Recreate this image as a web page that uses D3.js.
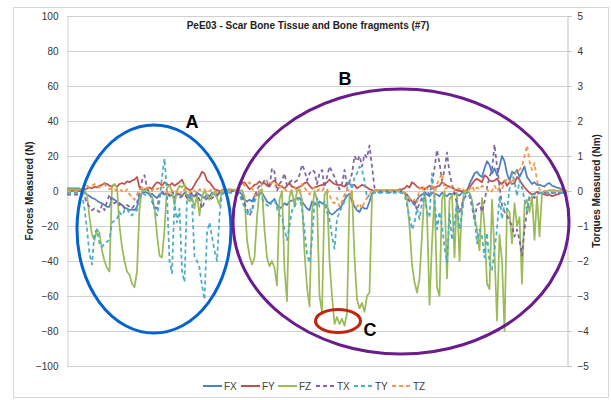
<!DOCTYPE html>
<html>
<head>
<meta charset="utf-8">
<script src="https://cdn.jsdelivr.net/npm/d3@7"></script>
<style>
  body { margin: 0; background: #fff; }
  svg { font-family: "Liberation Sans", Arial, sans-serif; }
</style>
</head>
<body>
<svg id="chart"></svg>
<script>
var width = 611,
	height = 400;
var margin = ({top: 16, right: 44, bottom: 34, left: 67});

// series names and colors (Excel 2010 palette)
var seriesNames = ["FX", "FY", "FZ", "TX", "TY", "TZ"];
var seriesColors = ["#4f81bd", "#c0504d", "#9bbb59", "#8064a2", "#4bacc6", "#f79646"];

var forceTicks = [-100, -80, -60, -40, -20, 0, 20, 40, 60, 80, 100];
var torqueTicks = [-5, -4, -3, -2, -1, 0, 1, 2, 3, 4, 5];

// forces (N), one value per sample, 201 samples
var FX = [1.5,1.5,1.5,1.5,1.5,1.5,0.5,-1,-2,-3,
	-4,-4.5,-5.5,-6.5,-7,-8,-9,-9,-4,-5,
	-6,-7,-8,-9.5,-10,-11,-10.5,-11,-9,-3,
	-1,-0.5,-1,-2,-1.5,-3,-4,-2,-1,-2,
	-1,-3,-2,-4,-1,-2,-3,-1,-2,-4,
	-2,-3,-1,-2,-3,-4,-2,-3,-1,-2,
	-3,-1,0,0.5,0.5,1,0.5,0.5,0,-0.5,
	-2,-5,-6,-5,-6,-3,-2,-1.5,-1,-3.5,
	-6,-7,-6,-4.5,-8,-10,-9,-7,-8,-6,
	-5.5,-5,-4,-4,-6,-8,-10,-11,-6,-7,
	-8,-6,-7,-7.5,-9,-12.5,-13.5,-12.5,-11,-10,
	-8,-5,-3,-1.5,-6,-9,-11,-12,-9,-10,
	-10,-6,-1.5,-0.5,0,-1,-0.5,0,-0.5,-1,
	0,-0.5,0,-0.5,-0.5,-1,-2,-4,-6,-8,
	-5,-3,-2,-1,-2,-3,-1,-1.5,-2,-3,
	-1,-2,-3,-1.5,-2,-1,-2,-2.5,-1,-0.5,
	0,4,7,10,11,9,8,13,17,15,
	10,13,9,14,20,17,10,6,11,10,
	12,8,11,14,8,6,4,5,3.5,3.5,
	3,2.5,4,4.5,3,2.5,2,1.5,1,0.5,0];

var FY = [0,0.5,0,0.5,0,0,0,0.5,1.5,2,
	1.5,2.5,2,3,3.5,4.5,4,3,2.5,3.5,
	2.5,4,4.5,4,5.5,5,6,6.5,8,2,
	0.5,1,1.5,2,1,3.5,5,4.5,3,5,
	4,3,4.5,3,4,5,6.5,3,1.5,0.5,
	1,3.5,6,8,11,10,6,5,3,1,
	0.5,0,-0.5,-0.5,0,-0.5,0,0,1,3,
	4.5,5,3,1,2,3.5,4,5.5,4,4.5,
	3,2.5,5,6,4,3,2.5,1.5,3,4.5,
	2.5,2,1.5,2.5,3,4.5,5,3,1.5,2,
	2.5,3,3.5,4,5,6.5,5,4,3.5,3.5,
	3,2.5,4.5,4,3,3.5,1.5,2.5,3.5,3,
	2,1,0.5,0,0.5,0,0.5,0,0.5,0,
	0.5,0,0.5,1,1,1.5,3,2,5,4,
	2.5,1.5,2,1,2,3,1.5,2,2.5,3,
	5,4,3,2.5,2,1,0.5,0,0,0,
	0.5,2,4,6,7,6,5,9,8,6,
	5.5,6,7,5,4,6,3,5,4,4.5,
	8,6.5,4,2,0.5,-1,-2,-1.5,-0.5,-1,
	-1.5,-2,-2.5,-2,-3,-2.5,-2,-1.5,-1,-0.5,0];

var FZ = [1,1,1,1,1,1,1,0,-2,-15,
	-25,-28,-22,-24,-34,-40,-44,-46,3,4,
	2,-20,-32,-40,-46,-48,-53,-55,-46,-10,
	1,0,1,-1,-3,-10,-25,-37,-38,-22,
	2,3,0,-8,0,3,2,4,-4,-6,
	-3,-10,-2,-14,-3,0,-2,-5,-2,-1,
	-4,-8,1,1,1,1,1,0,0.5,0,
	0.5,-3,-28,-37,-42,-38,-15,0,1,-22,
	-38,-43,-40,-44,-54,-5,0,-45,-63,-3,
	0,-9,0,1,-5,-35,-55,-66,-12,0,
	-5,-60,-69,-2,0,-40,-60,-76,-72,-76,
	-73,-77,-70,-3,0,-38,-62,-67,-64,-69,
	-60,-58,-3,0.5,0.5,0.5,0.5,0.5,0.5,0.5,
	0.5,0.5,0.5,0.5,0,-1,-5,-20,-42,-52,
	-58,-50,-25,0,-12,-65,-30,-2,-55,-60,
	-5,0,-50,-5,-2,-38,-1,-40,-8,0,
	0,-1,-5,-15,-22,-34,-4,-20,-53,-56,
	-5,-35,-74,-25,-40,-80,-10,-12,-30,-7,
	-20,-15,-53,-8,-5,-12,-3,-28,-3,-26,
	-1,0,0,0.5,0.5,0.5,0,0,0.5,0.5,0];

// torques (Nm)
var TX = [-0.1,-0.1,-0.1,-0.1,-0.1,-0.1,-0.05,-0.15,-0.35,-0.45,
	-0.55,-0.5,-0.55,-0.6,-0.4,-0.55,-0.3,-0.1,-0.3,-0.35,
	-0.3,-0.4,-0.35,-0.5,-0.4,-0.45,-0.5,-0.4,-0.35,0,
	0.3,0.45,0.1,-0.05,-0.3,-0.45,-0.5,-0.15,0,-0.1,
	-0.05,-0.1,0,-0.1,-0.05,-0.2,-0.15,-0.1,-0.2,-0.1,
	-0.05,-0.15,-0.1,-0.25,-0.5,-0.3,-0.2,-0.25,-0.2,-0.15,
	-0.1,-0.05,0,0,0,0,0,0,-0.05,-0.1,
	-0.2,-0.35,-0.5,-0.7,-0.55,-0.2,0.05,0.15,0.2,0.3,
	0.25,0.1,0.65,0.55,0,0.2,0.3,0.5,0.15,0.25,
	0.3,0.25,0.3,0.45,0.75,0.6,0.3,0.5,0.6,0.55,
	0.2,0.5,0.6,0.1,0.4,0.7,0.55,0.4,0.2,0.05,
	0.2,0.6,0.15,0.25,0.5,1.0,0.85,1.0,0.7,1.05,
	0.95,1.3,0.7,0.1,0,0,0,0,0,0,
	0,0,0,0,0,-0.05,-0.15,-0.3,-0.35,-0.3,
	-0.55,-0.35,-0.2,-0.1,0,-0.1,0.2,0.65,1.17,0.8,
	0.3,0.6,1.1,0.5,0.2,-0.1,-0.35,-0.6,-0.4,-0.2,
	-0.1,-0.15,-0.45,-0.85,-0.4,-0.35,-0.6,-0.3,0.1,0.4,
	0.6,1.33,0.7,0.15,-0.4,-0.6,-0.7,-0.85,-1.0,-1.3,
	-1.1,-1.4,-1.85,-1.1,-0.6,-0.2,-0.15,-0.2,-0.1,-0.05,
	-0.05,-0.05,-0.05,-0.05,-0.05,-0.05,-0.05,-0.05,-0.05,-0.05,-0.05];

var TY = [-0.05,-0.05,-0.05,-0.05,-0.05,-0.05,-0.1,-0.5,-1.1,-1.8,
	-2.1,-1.2,-1.1,-1.5,-1.6,-1.5,-1.45,-1.4,-0.9,-0.85,
	-0.8,-0.6,-0.7,-0.55,-0.5,-0.65,-0.7,-0.6,-0.55,-0.2,
	-0.05,-0.1,-0.15,-0.1,-0.2,-0.5,-0.7,-0.3,0.4,0.93,
	-0.1,-2.0,-2.35,-0.3,-0.9,-0.5,-2.3,-2.6,-0.2,-0.1,
	-0.3,-1.9,-2.0,-2.2,-2.7,-3.1,-1.2,-0.9,-1.3,-1.7,
	-2.0,-0.7,-0.1,-0.05,-0.05,-0.05,-0.05,-0.05,-0.05,-0.1,
	-0.3,-0.45,-0.7,-0.5,-0.6,-0.3,-0.15,-0.1,-0.2,-0.35,
	-0.4,-0.45,-0.3,-0.25,-0.5,-0.7,-0.75,-1.1,-1.4,-1.0,
	-0.55,-0.45,-0.3,-0.2,-0.5,-1.1,-1.8,-2.05,-1.4,-0.35,
	-0.2,-0.45,-0.4,-0.3,-0.6,-0.8,-1.3,-1.65,-0.8,-0.6,
	-0.45,-0.3,0.05,0.3,0.05,0.4,0.5,0.7,0.6,0.3,
	-0.2,-0.1,-0.05,-0.05,-0.05,-0.05,-0.05,-0.05,-0.05,-0.05,
	-0.05,-0.05,-0.05,-0.05,-0.05,-0.1,-0.4,-0.75,-1.1,-0.9,
	-0.5,-0.8,-0.35,-0.05,-0.6,-0.75,0.5,-0.2,-1.1,-0.6,
	-1.0,-1.6,-2.05,-0.65,-1.4,-0.9,-0.35,-1.1,-0.65,-0.1,
	-0.05,-0.05,-0.35,-0.7,-1.5,-1.1,-1.3,-1.9,-1.2,-2.05,
	-2.25,-1.7,-1.1,-0.15,-0.8,-0.35,-0.55,0.05,0.5,0.3,
	-0.15,0.3,0.1,-0.25,-0.55,-0.15,-0.1,-0.1,-0.05,-0.05,
	-0.05,-0.05,-0.05,-0.05,-0.05,-0.05,-0.05,-0.05,-0.05,-0.05,-0.05];

var TZ = [0,0,0,0,0,0,0.05,0.1,0.15,0.1,
	0.15,0.2,0.15,0.1,0.15,0.2,0.1,0.05,0.1,0.05,
	0,0.05,0,-0.05,0.05,-0.1,-0.15,-0.25,-0.1,0.05,
	0.1,0.05,0.1,0.05,0,0.1,0.05,0.1,0.15,0.05,
	-0.05,-0.1,0,0.05,-0.05,0,-0.1,0.05,0,-0.05,
	0.05,0,-0.05,0.05,0,0.05,-0.05,0,0.05,0,
	-0.05,0,0,0,0,0,0,0,0.05,0.2,
	0.25,0.15,0.2,0.25,0.1,-0.1,-0.15,0.05,0.2,0.25,
	0.3,0.2,0.25,0.15,0.2,0.1,0.15,0.05,0,-0.05,
	0.05,0.1,0,-0.05,0.2,0.1,0,-0.1,0.05,0.1,
	0,0.05,0,0.1,0.05,-0.1,-0.3,-0.35,-0.2,-0.45,
	-0.3,-0.1,0.05,0,-0.2,-0.4,-0.45,-0.35,-0.5,-0.3,
	-0.2,-0.1,0,0,0,0,0,0,0,0,
	0,0,0,0,0,-0.05,-0.15,-0.2,-0.3,-0.25,
	-0.35,0.1,0,0.15,0.05,0.1,0.15,-0.1,0.2,0.35,
	0.5,0.05,0.1,0.05,0.15,0,0.1,0.05,0.1,0,
	0,0.05,0.15,0,0.1,0.05,0.15,0.1,0.05,-0.05,
	0,0.15,0,0.1,0.05,0.25,0.35,0.3,0.2,0.45,
	0.6,0.6,0.7,1.0,1.3,0.85,0.6,0.8,0.3,0.05,
	0,0,0,0,0,0,0,0,0,0,0];

var svg = d3.select('#chart')
	.attr('width', width)
	.attr('height', height);

// outer chart frame
svg.append('rect')
	.attr('x', 13.5).attr('y', 7.5)
	.attr('width', 595).attr('height', 390)
	.attr('fill', '#fff')
	.attr('stroke', '#d9d9d9');

var x = d3.scaleLinear()
	.domain([0, FX.length - 1])
	.range([margin.left, width - margin.right]);

var yF = d3.scaleLinear()
	.domain([-100, 100])
	.range([height - margin.bottom, margin.top]);

var yT = d3.scaleLinear()
	.domain([-5, 5])
	.range([height - margin.bottom, margin.top]);

// gridlines
svg.append('g')
	.selectAll('line')
	.data(forceTicks)
	.join('line')
		.attr('x1', margin.left)
		.attr('x2', width - margin.right)
		.attr('y1', d => Math.round(yF(d)) + 0.5)
		.attr('y2', d => Math.round(yF(d)) + 0.5)
		.attr('stroke', '#d0d0d0')
		.attr('stroke-width', 1.2);

var yAxis = g => g
	.attr('transform', 'translate(' + (margin.left + 0.5) + ',0)')
	.call(d3.axisLeft(yF).tickValues(forceTicks).tickSize(0).tickPadding(9))
	.call(g => g.select('.domain').attr('stroke', '#d0d0d0'))
	.call(g => g.selectAll('.tick text')
		.attr('font-size', 10)
		.attr('fill', '#333'));

var yAxisRight = g => g
	.attr('transform', 'translate(' + (width - margin.right + 0.5) + ',0)')
	.call(d3.axisRight(yT).tickValues(torqueTicks).tickSize(4).tickPadding(6))
	.call(g => g.select('.domain').attr('stroke', '#bfbfbf'))
	.call(g => g.selectAll('.tick line').attr('stroke', '#bfbfbf'))
	.call(g => g.selectAll('.tick text')
		.attr('font-size', 10)
		.attr('fill', '#333'));

svg.append('g').attr('id', 'yAxisGroup').call(yAxis);
svg.append('g').attr('id', 'yAxisRightGroup').call(yAxisRight);

// axis titles
svg.append('text')
	.attr('transform', 'translate(33,' + yF(0) + ') rotate(-90)')
	.attr('text-anchor', 'middle')
	.attr('font-size', 10)
	.attr('font-weight', 'bold')
	.attr('fill', '#222')
	.text('Forces Measured (N)');

svg.append('text')
	.attr('transform', 'translate(600,' + yT(0) + ') rotate(-90)')
	.attr('text-anchor', 'middle')
	.attr('font-size', 10)
	.attr('font-weight', 'bold')
	.attr('fill', '#222')
	.text('Torques Measured (Nm)');

// chart title
svg.append('text')
	.attr('x', 308)
	.attr('y', 29)
	.attr('text-anchor', 'middle')
	.attr('font-size', 10)
	.attr('font-weight', 'bold')
	.attr('fill', '#222')
	.text('PeE03 - Scar Bone Tissue and Bone fragments (#7)');

// series lines
var allSeries = [FX, FY, FZ, TX, TY, TZ];
var lineF = d3.line().x((d, i) => x(i)).y(d => yF(d));
var lineT = d3.line().x((d, i) => x(i)).y(d => yT(d));

allSeries.forEach(function(s, k){
	svg.append('path')
		.attr('d', k < 3 ? lineF(s) : lineT(s))
		.attr('fill', 'none')
		.attr('stroke', seriesColors[k])
		.attr('stroke-width', 1.75)
		.attr('stroke-linejoin', 'round')
		.attr('stroke-dasharray', k < 3 ? null : '4,3');
});

// annotation ellipses
var marks = [
	{cx: 154, cy: 229, rx: 77, ry: 104, color: '#0563d0', label: 'A', lx: 192, ly: 128},
	{cx: 401, cy: 221.5, rx: 168, ry: 132.5, color: '#6a1b8c', label: 'B', lx: 345, ly: 85},
	{cx: 338, cy: 321, rx: 22.5, ry: 11.5, color: '#c0260f', label: 'C', lx: 370, ly: 336}
];
svg.append('g')
	.selectAll('ellipse')
	.data(marks)
	.join('ellipse')
		.attr('cx', d => d.cx)
		.attr('cy', d => d.cy)
		.attr('rx', d => d.rx)
		.attr('ry', d => d.ry)
		.attr('fill', 'none')
		.attr('stroke', d => d.color)
		.attr('stroke-width', 3);
svg.append('g')
	.selectAll('text')
	.data(marks)
	.join('text')
		.attr('x', d => d.lx)
		.attr('y', d => d.ly)
		.attr('text-anchor', 'middle')
		.attr('font-size', 18)
		.attr('font-weight', 'bold')
		.attr('fill', '#000')
		.text(d => d.label);

// legend
var legendX = [203, 241, 278, 316, 354, 392];
var legend = svg.append('g')
	.selectAll('g')
	.data(seriesNames)
	.join('g')
		.attr('transform', (d, i) => 'translate(' + legendX[i] + ',386)');
legend.append('line')
	.attr('x1', 0).attr('x2', 19)
	.attr('stroke', (d, i) => seriesColors[i])
	.attr('stroke-width', 2)
	.attr('stroke-dasharray', (d, i) => i < 3 ? null : '4,3');
legend.append('text')
	.attr('x', 21)
	.attr('y', 3.5)
	.attr('font-size', 10)
	.attr('fill', '#404040')
	.text(d => d);
</script>
</body>
</html>
